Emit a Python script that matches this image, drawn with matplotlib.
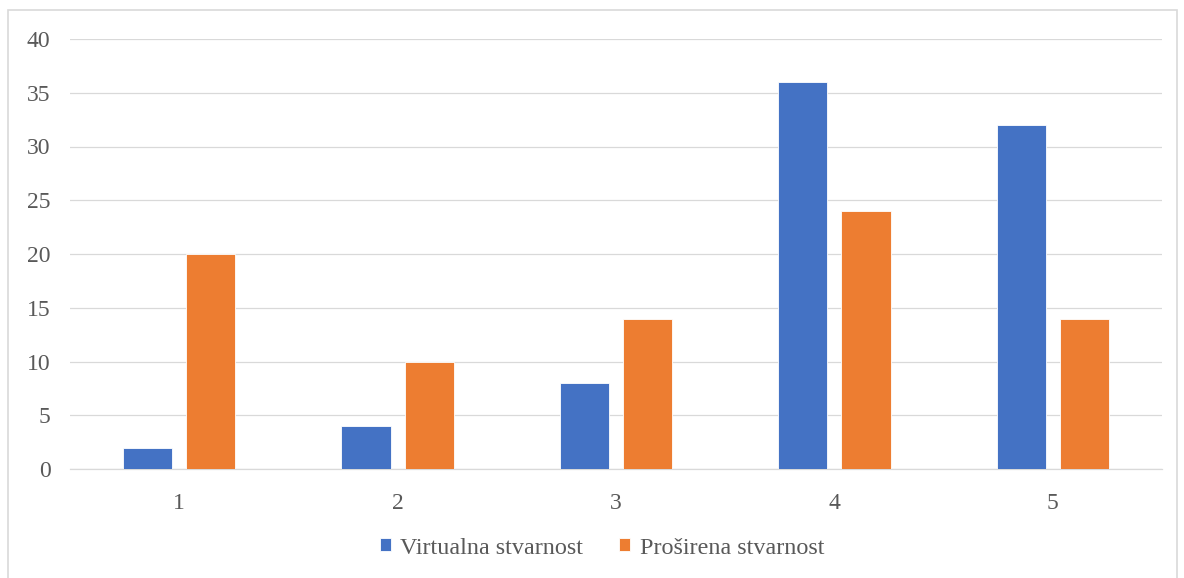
import numpy as np
import matplotlib.pyplot as plt
from matplotlib.patches import Rectangle

# Ocjene 1-5 i broj odgovora za svaku tehnologiju
categories = ["1", "2", "3", "4", "5"]
virtualna = [2, 4, 8, 36, 32]
prosirena = [20, 10, 14, 24, 14]
yticks = [0, 5, 10, 15, 20, 25, 30, 35, 40]

plt.rcParams['font.family'] = ['Liberation Serif', 'DejaVu Serif']
text_color = '#595959'

fig = plt.figure(figsize=(11.84, 5.78), dpi=100)
ax = fig.add_axes([70 / 1184, 1 - 469 / 578, 1092 / 1184, 430 / 578])

x = np.arange(len(categories))
w = 0.225
ax.bar(x - 0.145, virtualna, w, color='#4472C4', edgecolor='white', linewidth=0.6,
       label='Virtualna stvarnost', zorder=3)
ax.bar(x + 0.145, prosirena, w, color='#ED7D31', edgecolor='white', linewidth=0.6,
       label='Proširena stvarnost', zorder=3)

ax.set_xlim(-0.5, len(categories) - 0.5)
ax.set_ylim(0, 40)
ax.set_yticks(yticks)
ax.set_xticks(x)
ax.set_xticklabels(categories)
ax.yaxis.grid(True, color='#D9D9D9', linewidth=0.9, zorder=0)
ax.tick_params(axis='y', length=0, pad=14, labelsize=17, labelcolor=text_color)
ax.tick_params(axis='x', length=0, pad=17, labelsize=17, labelcolor=text_color)
for s in ['top', 'right', 'left']:
    ax.spines[s].set_visible(False)
ax.spines['bottom'].set_color('#D9D9D9')
ax.spines['bottom'].set_linewidth(0.9)

leg = ax.legend(loc='center', bbox_to_anchor=(602 / 1184, (578 - 548) / 578), bbox_transform=fig.transFigure,
                ncol=2, frameon=False, fontsize=17.4, handlelength=0.46, handleheight=0.46,
                handletextpad=0.38, columnspacing=1.5)
for t in leg.get_texts():
    t.set_color(text_color)

# okvir grafikona
fig.patches.append(Rectangle((8 / 1184, -0.01), 1169 / 1184, 1 - 10 / 578 + 0.01,
                             transform=fig.transFigure, fill=False,
                             edgecolor='#D9D9D9', linewidth=1.2))

fig.savefig('out.png', dpi=100)
